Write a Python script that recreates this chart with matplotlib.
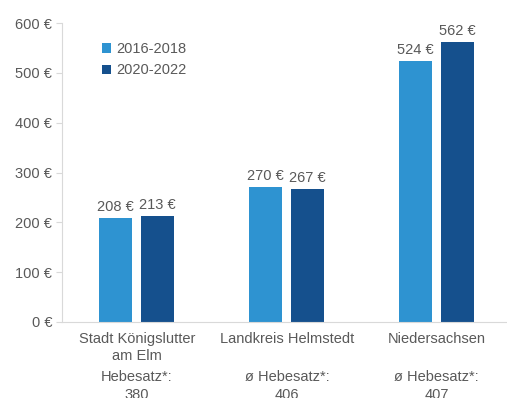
import matplotlib.pyplot as plt
import matplotlib.transforms as mtransforms
import numpy as np

# Grundsteuer-Aufkommen je Einwohner im Vergleich
regionen = ['Stadt Königslutter\nam Elm', 'Landkreis Helmstedt', 'Niedersachsen']
hebesatz = ['Hebesatz*:\n380', 'ø Hebesatz*:\n406', 'ø Hebesatz*:\n407']
werte_2016_2018 = [208, 270, 524]
werte_2020_2022 = [213, 267, 562]
serien = ['2016-2018', '2020-2022']

hell = '#2E93D1'
dunkel = '#15508D'
grau = '#595959'

plt.rcParams['font.family'] = ['Liberation Sans', 'DejaVu Sans']

fig = plt.figure(figsize=(5.07, 3.98), dpi=100)
ax = fig.add_axes([0.1223, 0.191, 0.878, 0.751])

x = np.arange(len(regionen))
breite = 0.22
b1 = ax.bar(x - 0.143, werte_2016_2018, breite, color=hell, label=serien[0])
b2 = ax.bar(x + 0.137, werte_2020_2022, breite, color=dunkel, label=serien[1])

for balken in (b1, b2):
    for r in balken:
        ax.text(r.get_x() + r.get_width() / 2, r.get_height() + 8,
                f'{int(r.get_height())} €', ha='center', va='bottom',
                fontsize=10.5, color=grau)

ax.set_ylim(0, 600)
ax.set_xlim(-0.5, 2.47)
ax.set_yticks(range(0, 601, 100))
ax.set_yticklabels([f'{v} €' for v in range(0, 601, 100)], fontsize=10.5, color=grau)
ax.set_xticks([])
ax.tick_params(axis='y', length=4, color='#D9D9D9', pad=3)

for s in ['top', 'right']:
    ax.spines[s].set_visible(False)
ax.spines['left'].set_color('#D9D9D9')
ax.spines['bottom'].set_color('#D9D9D9')

# Beschriftung unter den Gruppen: x in Daten, y in Figurkoordinaten
trans = mtransforms.blended_transform_factory(ax.transData, fig.transFigure)
for xi, name, hs in zip(x, regionen, hebesatz):
    ax.text(xi, 1 - 332 / 398, name, transform=trans, ha='center', va='top',
            fontsize=10.5, color=grau, linespacing=1.3, clip_on=False)
    ax.text(xi, 1 - 370 / 398, hs, transform=trans, ha='center', va='top',
            fontsize=10.5, color=grau, linespacing=1.4, clip_on=False)

leg = ax.legend(loc='upper left', bbox_to_anchor=(0.06, 0.98), frameon=False,
                fontsize=10.5, handlelength=0.6, handleheight=0.6,
                handletextpad=0.4, labelspacing=0.5)
for t in leg.get_texts():
    t.set_color(grau)

fig.savefig('out.png', dpi=100)
